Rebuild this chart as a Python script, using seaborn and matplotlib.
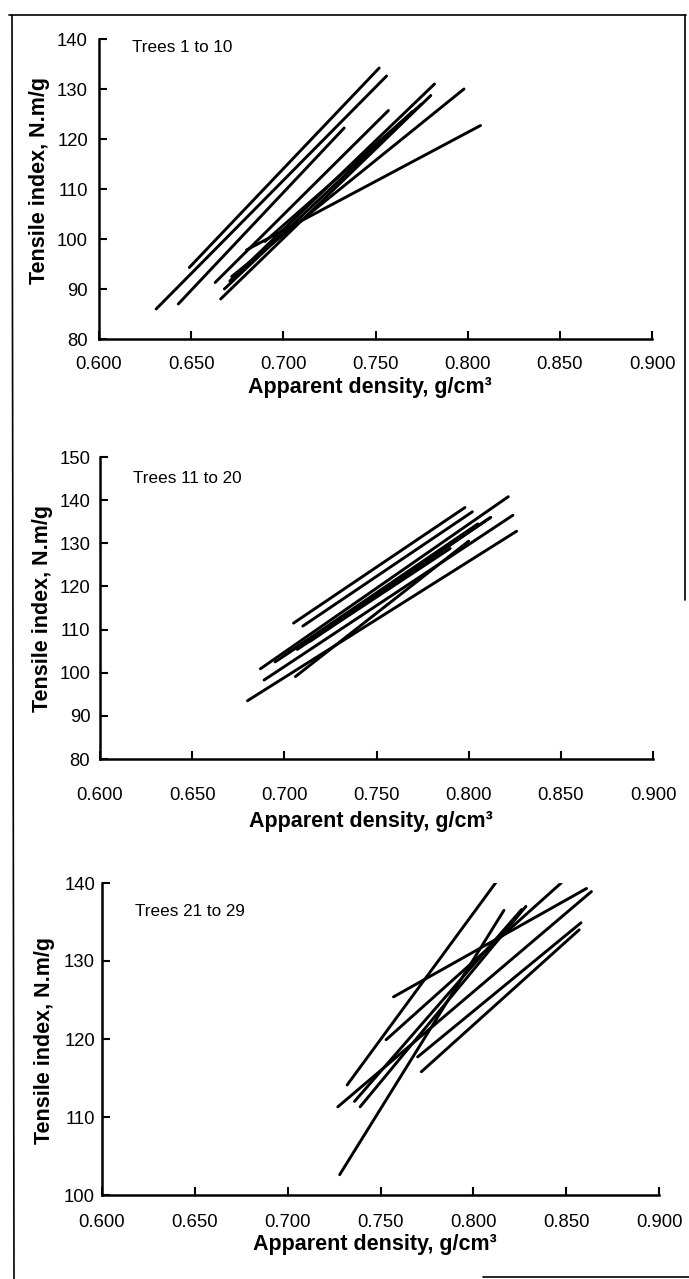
import matplotlib
matplotlib.use("Agg")
import matplotlib.pyplot as plt
from matplotlib.lines import Line2D
import pandas as pd
import seaborn as sns

W, H = 689, 1279

# ---- data: one straight regression segment per tree (start -> end) ----
# Trees 1 to 10
t1_x0 = [0.631, 0.649, 0.643, 0.663, 0.680, 0.671, 0.666, 0.672, 0.690, 0.668]
t1_y0 = [86.0, 94.3, 87.0, 91.3, 97.8, 91.6, 88.0, 92.5, 99.5, 90.0]
t1_x1 = [0.756, 0.752, 0.733, 0.757, 0.807, 0.782, 0.780, 0.798, 0.775, 0.770]
t1_y1 = [132.6, 134.2, 122.2, 125.7, 122.7, 131.0, 128.7, 130.0, 127.0, 125.5]

# Trees 11 to 20
t2_x0 = [0.680, 0.689, 0.706, 0.687, 0.705, 0.710, 0.707, 0.714, 0.695, 0.700]
t2_y0 = [93.5, 98.3, 99.1, 100.9, 111.5, 110.8, 105.4, 107.3, 102.5, 104.0]
t2_x1 = [0.826, 0.824, 0.800, 0.8215, 0.798, 0.802, 0.790, 0.8115, 0.812, 0.805]
t2_y1 = [132.8, 136.5, 130.5, 140.8, 138.3, 137.3, 128.8, 135.9, 136.0, 134.5]

# Trees 21 to 29
t3_x0 = [0.728, 0.732, 0.727, 0.739, 0.753, 0.757, 0.770, 0.772, 0.736]
t3_y0 = [102.6, 114.1, 111.3, 111.3, 119.9, 125.4, 117.7, 115.8, 112.0]
t3_x1 = [0.8165, 0.8138, 0.8636, 0.8283, 0.8473, 0.861, 0.858, 0.857, 0.826]
t3_y1 = [136.5, 140.6, 138.9, 137.0, 140.0, 139.3, 134.9, 134.0, 136.6]

panels = [
    dict(x0=t1_x0, y0=t1_y0, x1=t1_x1, y1=t1_y1, first=1, label='Trees 1 to 10',
         ylim=(80, 140), yticks=[80, 90, 100, 110, 120, 130, 140],
         box=(99, 652, 39, 339), note=(0.618, 138.2), long_end=True,
         xpad=12, ypad=8, xlab_y=-0.127, ylab=(-0.089, 0.53)),
    dict(x0=t2_x0, y0=t2_y0, x1=t2_x1, y1=t2_y1, first=11, label='Trees 11 to 20',
         ylim=(80, 150), yticks=[80, 90, 100, 110, 120, 130, 140, 150],
         box=(100, 653, 457, 759), note=(0.618, 145.0), long_end=True,
         xpad=20, ypad=7, xlab_y=-0.172, ylab=(-0.085, 0.50)),
    dict(x0=t3_x0, y0=t3_y0, x1=t3_x1, y1=t3_y1, first=21, label='Trees 21 to 29',
         ylim=(100, 140), yticks=[100, 110, 120, 130, 140],
         box=(102, 659, 883, 1195), note=(0.618, 136.3), long_end=False,
         xpad=14, ypad=5, xlab_y=-0.124, ylab=(-0.084, 0.495)),
]

xticks = [0.600, 0.650, 0.700, 0.750, 0.800, 0.850, 0.900]

sns.set_theme(style='ticks')
plt.rcParams['font.family'] = ['Liberation Sans', 'DejaVu Sans']
plt.rcParams['text.color'] = 'black'
plt.rcParams['axes.labelcolor'] = 'black'
plt.rcParams['xtick.color'] = 'black'
plt.rcParams['ytick.color'] = 'black'

fig = plt.figure(figsize=(W / 100, H / 100), dpi=100)
fig.patch.set_facecolor('white')

for p in panels:
    l, r, t, b = p['box']
    ax = fig.add_axes([l / W, 1 - b / H, (r - l) / W, (b - t) / H])
    n = len(p['x0'])
    trees = list(range(p['first'], p['first'] + n))
    df = pd.DataFrame({
        'tree': trees + trees,
        'density': list(p['x0']) + list(p['x1']),
        'tensile': list(p['y0']) + list(p['y1']),
    })
    sns.lineplot(data=df, x='density', y='tensile', units='tree', estimator=None,
                 color='black', lw=2.1, ax=ax, legend=False)

    ax.set_xlim(0.6, 0.9)
    ax.set_ylim(*p['ylim'])
    ax.set_xticks(xticks)
    ax.set_xticklabels([f'{v:.3f}' for v in xticks])
    ax.set_yticks(p['yticks'])
    ax.set_yticklabels([str(v) for v in p['yticks']])
    ax.tick_params(axis='both', direction='in', length=6, width=1.5,
                   labelsize=13.3, colors='black')
    ax.tick_params(axis='x', pad=p['xpad'])
    ax.tick_params(axis='y', pad=p['ypad'])
    if p['long_end']:
        # taller closing tick at the right end of the density axis
        ax.set_xticks([xticks[-1]], minor=True)
        ax.tick_params(axis='x', which='minor', direction='in', length=11,
                       width=1.5, labelbottom=False)
    sns.despine(ax=ax)
    for s in ['left', 'bottom']:
        ax.spines[s].set_linewidth(1.8)
        ax.spines[s].set_color('black')
    ax.set_facecolor('white')

    ax.set_xlabel('Apparent density, g/cm³', fontsize=15.5, fontweight='bold')
    ax.set_ylabel('Tensile index, N.m/g', fontsize=15.5, fontweight='bold')
    ax.xaxis.set_label_coords(0.49, p['xlab_y'])
    ax.yaxis.set_label_coords(*p['ylab'])

    ax.text(p['note'][0], p['note'][1], p['label'], fontsize=12.3,
            ha='left', va='center')

# scanned page frame
def px(x, y):
    return x / W, 1 - y / H

frame = [((9, 15), (686, 15)), ((12, 15), (14, 1279)),
         ((685, 15), (685, 600)), ((483, 1277), (689, 1277))]
for (a, b) in frame:
    xa, ya = px(*a)
    xb, yb = px(*b)
    fig.add_artist(Line2D([xa, xb], [ya, yb], transform=fig.transFigure,
                          color='black', lw=1.2))

fig.savefig('out.png', dpi=100, facecolor='white')
